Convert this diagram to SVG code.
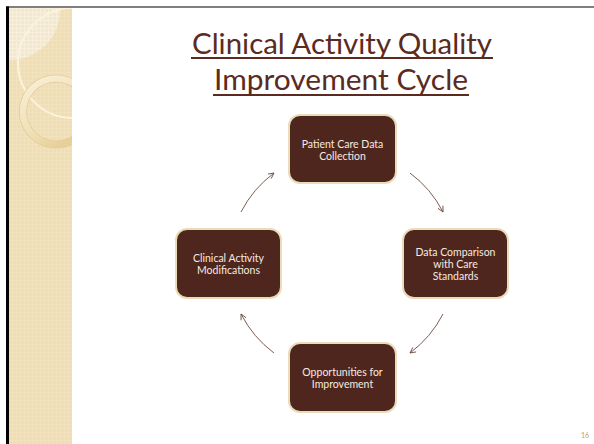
<svg xmlns="http://www.w3.org/2000/svg" width="594" height="444" viewBox="0 0 594 444">
<defs>
<pattern id="hatch" width="4" height="4" patternUnits="userSpaceOnUse">
<rect width="4" height="4" fill="#efddb4"/>
<path d="M0 0.5H4M0.5 0V4" stroke="#f2e2be" stroke-width="1"/>
</pattern>
<pattern id="hatchLight" width="4" height="4" patternUnits="userSpaceOnUse">
<rect width="4" height="4" fill="#f4e8cc"/>
<path d="M0 0.5H4M0.5 0V4" stroke="#f8efdc" stroke-width="1"/>
</pattern>
<linearGradient id="ringGrad" x1="0" y1="0" x2="0.6" y2="1">
<stop offset="0" stop-color="#f8efd6"/>
<stop offset="0.6" stop-color="#f2e2bb"/>
<stop offset="1" stop-color="#e8cf98"/>
</linearGradient>
<clipPath id="sideClip"><rect x="9" y="8" width="63" height="436"/></clipPath>
<marker id="arrow" viewBox="0 0 10 10" refX="9" refY="5" markerWidth="7" markerHeight="7" orient="auto" markerUnits="userSpaceOnUse">
<path d="M1 1L9 5L1 9" fill="none" stroke="#6e4a40" stroke-width="1.2"/>
</marker>
</defs>
<style>
.node rect{fill:#4f261d;stroke:#eadcb8;stroke-width:2}
.node text{font-family:Lato,"Open Sans","Liberation Sans",sans-serif;font-size:10.5px;fill:#f4ebe0;text-anchor:middle}
.title{font-family:Lato,"Open Sans","Liberation Sans",sans-serif;font-size:29px;fill:#5b2a20;text-anchor:middle}
.ul{stroke:#5b2a20;stroke-width:2}
.conn path{fill:none;stroke:#6e4a40;stroke-width:0.9;marker-end:url(#arrow)}
</style>
<rect width="594" height="444" fill="#ffffff"/>
<g id="sidebar">
<rect x="9" y="8" width="63" height="436" fill="url(#hatch)"/>
<g clip-path="url(#sideClip)">
<circle cx="10" cy="10" r="50" fill="url(#hatchLight)"/>
<circle cx="73" cy="63" r="55" fill="none" stroke="#fbf3dc" stroke-width="2"/>
<circle cx="56" cy="111.5" r="33" fill="none" stroke="#e2cc9c" stroke-width="8"/>
<circle cx="56" cy="111.5" r="33" fill="none" stroke="url(#ringGrad)" stroke-width="6.5"/>
</g>
</g>
<line x1="6" y1="7" x2="594" y2="7" stroke="#555555" stroke-width="1.5"/>
<line x1="7.5" y1="6.5" x2="7.5" y2="444" stroke="#000000" stroke-width="3"/>
<g id="title">
<text class="title" x="342" y="54" textLength="300" lengthAdjust="spacingAndGlyphs">Clinical Activity Quality</text>
<line class="ul" x1="191" y1="58" x2="493" y2="58"/>
<text class="title" x="341" y="90" textLength="254" lengthAdjust="spacingAndGlyphs">Improvement Cycle</text>
<line class="ul" x1="213" y1="95" x2="469" y2="95"/>
</g>
<g class="conn" id="connectors">
<path d="M410 173A113 113 0 0 1 443 212"/>
<path d="M443 314A113 113 0 0 1 410 353"/>
<path d="M274 353A113 113 0 0 1 241 314"/>
<path d="M241 212A113 113 0 0 1 274 173"/>
</g>
<g class="node" id="n-collect">
<rect x="289" y="115" width="107" height="68" rx="11"/>
<text x="342.5" y="147.5">Patient Care Data</text>
<text x="342.5" y="159.5">Collection</text>
</g>
<g class="node" id="n-compare">
<rect x="403" y="229" width="105" height="69" rx="11"/>
<text x="455.5" y="255.5">Data Comparison</text>
<text x="455.5" y="267.5">with Care</text>
<text x="455.5" y="279.5">Standards</text>
</g>
<g class="node" id="n-opps">
<rect x="289" y="343" width="107" height="69" rx="11"/>
<text x="342.5" y="375.5">Opportunities for</text>
<text x="342.5" y="387.5">Improvement</text>
</g>
<g class="node" id="n-modify">
<rect x="176" y="229" width="105" height="69" rx="11"/>
<text x="228.5" y="261.5">Clinical Activity</text>
<text x="228.5" y="273.5">Modifications</text>
</g>
<text x="585" y="438" font-family="Lato,'Liberation Sans',sans-serif" font-size="7" fill="#b8a070" text-anchor="middle">16</text>
</svg>
